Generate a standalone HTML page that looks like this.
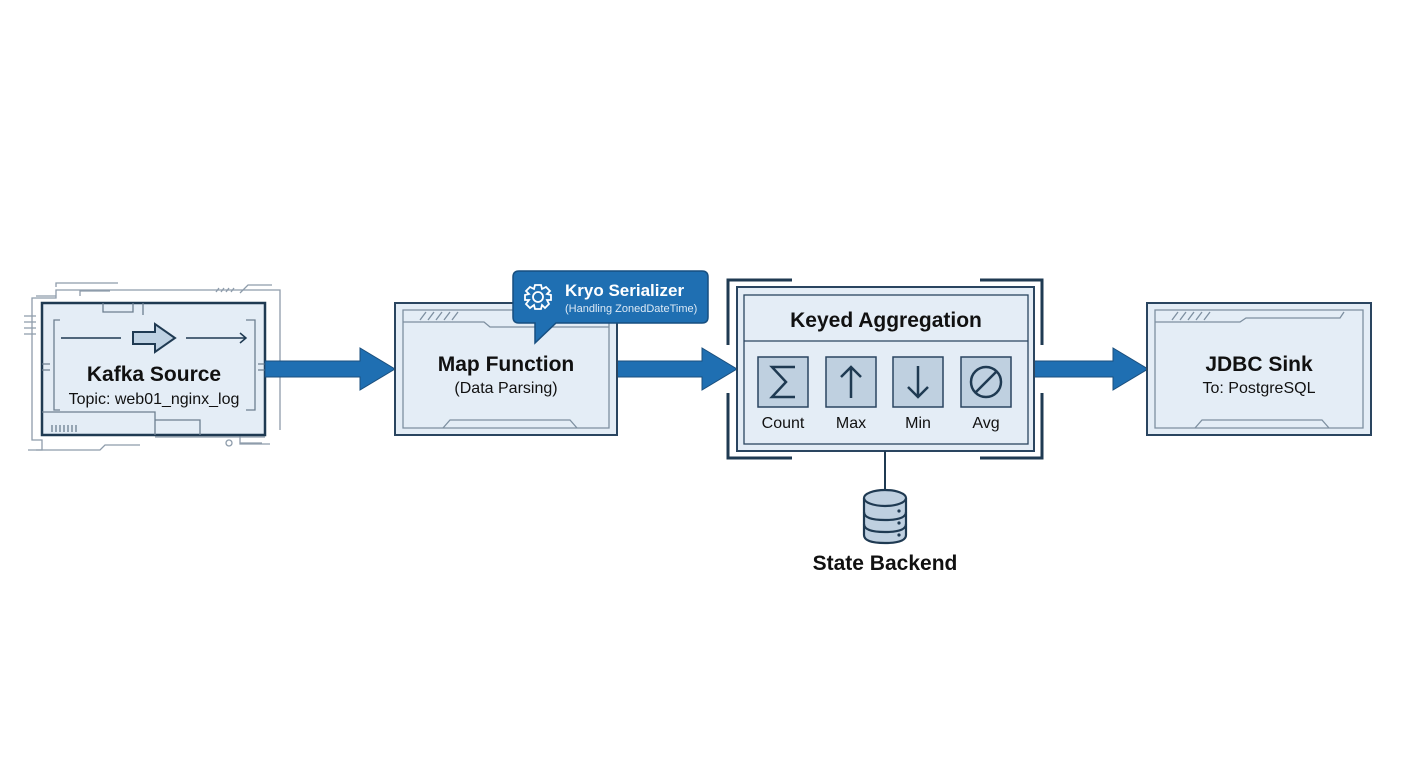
<!DOCTYPE html>
<html><head><meta charset="utf-8"><style>
html,body{margin:0;padding:0;background:#fff}
svg{display:block}
text{font-family:"Liberation Sans",sans-serif}
</style></head><body>
<svg width="1408" height="768" viewBox="0 0 1408 768" xmlns="http://www.w3.org/2000/svg">
<rect width="1408" height="768" fill="#ffffff"/>
<!-- Kafka circuit decorations -->
<g fill="none" stroke="#8e9cab" stroke-width="1.3">
<path d="M28 450 H42 V440 H32 V298 H56 V290 H280 V430"/>
<path d="M36 296 H56"/>
<path d="M56 287 V283 H118"/>
<path d="M80 296 V291 H110"/>
<path d="M240 434 V444 H270"/>
<path d="M155 437 H265"/>
<path d="M36 450 H100 L105 445 H140"/>
<path d="M240 293 L248 285 H272"/>
<path d="M24 316 H36 M24 322 H36 M24 328 H36 M24 334 H36"/>
<path d="M216 292 L219 288 M221 292 L224 288 M226 292 L229 288 M231 292 L234 288"/>
<circle cx="229" cy="443" r="3"/>
<path d="M240 443 H262"/>
</g>
<!-- Kafka box -->
<rect x="42" y="303" width="223" height="132" fill="#e4edf6" stroke="#1f3a52" stroke-width="2.5"/>
<g fill="none" stroke="#6d7f90" stroke-width="1.3">
<path d="M60 320 H54 V410 H60"/>
<path d="M246 320 H255 V410 H246"/>
<path d="M42 412 H155 V435 M155 420 H200 V435"/>
<path d="M103 303 V312 H133 V303 M143 303 V315"/>
<path d="M52 425 V432 M56 425 V432 M60 425 V432 M64 425 V432 M68 425 V432 M72 425 V432 M76 425 V432"/>
<path d="M42 364 H50 M42 370 H50 M258 364 H265 M258 370 H265"/>
</g>
<g stroke="#1f3a52" stroke-width="1.5" fill="none">
<path d="M61 338 H121"/><path d="M186 338 H246 M240 333 L246 338 L240 343"/>
</g>
<path d="M133 332 H155 V324 L175 338 L155 352 V344 H133 Z" fill="#bfd2e3" stroke="#1f3a52" stroke-width="2"/>
<text x="154" y="381" text-anchor="middle" font-size="21" font-weight="bold" fill="#111">Kafka Source</text>
<text x="154" y="404" text-anchor="middle" font-size="16" fill="#111">Topic: web01_nginx_log</text>

<!-- arrows -->
<g fill="#1f6fb2" stroke="#1b4f7d" stroke-width="1">
<path d="M265 361 H360 V348 L395 369 L360 390 V377 H265 Z"/>
<path d="M617 361 H702 V348 L737 369 L702 390 V377 H617 Z"/>
<path d="M1034 361 H1113 V348 L1148 369 L1113 390 V377 H1034 Z"/>
</g>

<!-- Map box -->
<rect x="395" y="303" width="222" height="132" fill="#e4edf6" stroke="#2a4560" stroke-width="2"/>
<g fill="none" stroke="#7d8fa0" stroke-width="1.3">
<path d="M403 310 H609 V428 H403 Z"/>
<path d="M403 322 H484 L490 327 H609"/>
<path d="M420 320 L426 312 M428 320 L434 312 M436 320 L442 312 M444 320 L450 312 M452 320 L458 312"/>
<path d="M443 428 L450 420 H570 L577 428"/>
</g>
<text x="506" y="371" text-anchor="middle" font-size="21" font-weight="bold" fill="#111">Map Function</text>
<text x="506" y="393" text-anchor="middle" font-size="16" fill="#111">(Data Parsing)</text>

<!-- bubble -->
<path d="M519 271 H702 Q708 271 708 277 V317 Q708 323 702 323 H556 L535 343 L535 323 H519 Q513 323 513 317 V277 Q513 271 519 271 Z" fill="#1f6fb2" stroke="#174f80" stroke-width="1.5"/>
<g transform="translate(538,297)" fill="none" stroke="#fff" stroke-width="1.8">
<circle r="5"/>
<path d="M-3 -12 L3 -12 L4 -8 L8 -10 L12 -6 L9 -3 L13 -2 L13 3 L9 3 L11 7 L7 11 L4 8 L3 12 L-3 12 L-4 8 L-8 11 L-12 7 L-9 3 L-13 3 L-13 -2 L-9 -3 L-12 -6 L-8 -10 L-4 -8 Z"/>
</g>
<text x="565" y="296" font-size="17" font-weight="bold" fill="#fff">Kryo Serializer</text>
<text x="565" y="312" font-size="11" fill="#dce9f5">(Handling ZonedDateTime)</text>

<!-- Keyed aggregation -->
<g fill="none" stroke="#1f3a52" stroke-width="3">
<path d="M728 345 V280 H792"/>
<path d="M980 280 H1042 V345"/>
<path d="M728 393 V458 H792"/>
<path d="M980 458 H1042 V393"/>
</g>
<rect x="737" y="287" width="297" height="164" fill="#e4edf6" stroke="#2a4560" stroke-width="2"/>
<rect x="744" y="295" width="284" height="149" fill="none" stroke="#2a4560" stroke-width="1.3"/>
<line x1="744" y1="341" x2="1028" y2="341" stroke="#2a4560" stroke-width="1.3"/>
<text x="886" y="327" text-anchor="middle" font-size="21" font-weight="bold" fill="#111">Keyed Aggregation</text>
<g fill="#bfd0e0" stroke="#2a4560" stroke-width="1.5">
<rect x="758" y="357" width="50" height="50"/>
<rect x="826" y="357" width="50" height="50"/>
<rect x="893" y="357" width="50" height="50"/>
<rect x="961" y="357" width="50" height="50"/>
</g>
<g fill="none" stroke="#1f3a52" stroke-width="2.5">
<path d="M795 367 H772 L786 382 L772 397 H795"/>
<path d="M851 398 V367 M841 377 L851 367 L861 377"/>
<path d="M918 366 V397 M908 387 L918 397 L928 387"/>
<circle cx="986" cy="382" r="15"/><path d="M975 393 L997 371"/>
</g>
<g font-size="16" fill="#111" text-anchor="middle">
<text x="783" y="428">Count</text><text x="851" y="428">Max</text>
<text x="918" y="428">Min</text><text x="986" y="428">Avg</text>
</g>

<!-- state backend -->
<line x1="885" y1="451" x2="885" y2="490" stroke="#1f3a52" stroke-width="2"/>
<g fill="#bfd0e0" stroke="#1f3a52" stroke-width="2.2">
<path d="M864 498 V535 Q864 543 885 543 Q906 543 906 535 V498"/>
<ellipse cx="885" cy="498" rx="21" ry="8"/>
<path d="M864 512 Q864 520 885 520 Q906 520 906 512 M864 524 Q864 532 885 532 Q906 532 906 524" fill="none"/>
</g>
<g fill="#1f3a52"><circle cx="899" cy="511" r="1.6"/><circle cx="899" cy="523" r="1.6"/><circle cx="899" cy="535" r="1.6"/></g>
<text x="885" y="570" text-anchor="middle" font-size="21" font-weight="bold" fill="#111">State Backend</text>

<!-- JDBC box -->
<rect x="1147" y="303" width="224" height="132" fill="#e4edf6" stroke="#2a4560" stroke-width="2"/>
<g fill="none" stroke="#7d8fa0" stroke-width="1.3">
<path d="M1155 310 H1363 V428 H1155 Z"/>
<path d="M1155 322 H1240 L1246 318 H1340 L1344 312"/>
<path d="M1172 320 L1178 312 M1180 320 L1186 312 M1188 320 L1194 312 M1196 320 L1202 312 M1204 320 L1210 312"/>
<path d="M1195 428 L1202 420 H1322 L1329 428"/>
</g>
<text x="1259" y="371" text-anchor="middle" font-size="21" font-weight="bold" fill="#111">JDBC Sink</text>
<text x="1259" y="393" text-anchor="middle" font-size="16" fill="#111">To: PostgreSQL</text>
</svg>
</body></html>
